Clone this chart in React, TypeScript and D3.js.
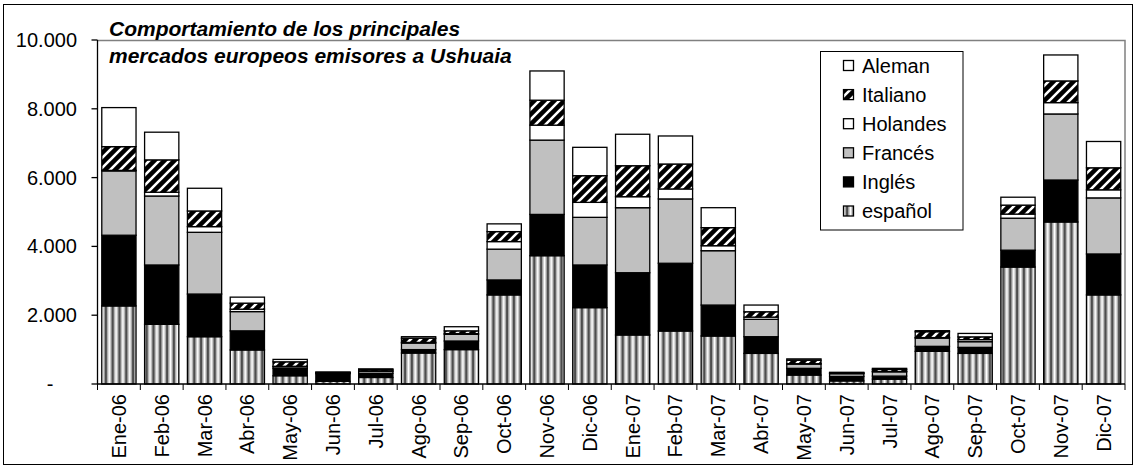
import React from "react";
import * as d3 from "d3";

const months = ["Ene-06","Feb-06","Mar-06","Abr-06","May-06","Jun-06","Jul-06","Ago-06","Sep-06","Oct-06","Nov-06","Dic-06","Ene-07","Feb-07","Mar-07","Abr-07","May-07","Jun-07","Jul-07","Ago-07","Sep-07","Oct-07","Nov-07","Dic-07"];
const espanol =  [2270,1735,1375,990,240,80,190,900,1000,2590,3730,2220,1425,1540,1395,890,260,90,140,950,890,3400,4710,2590];
const ingles =   [2055,1725,1240,555,215,220,120,100,250,435,1200,1240,1810,1970,900,485,195,130,90,145,175,490,1220,1190];
const frances =  [1870,2005,1795,560,50,20,60,190,195,895,2160,1385,1890,1870,1580,505,125,80,125,240,165,930,1920,1630];
const holandes = [15,110,165,70,10,5,10,20,20,220,435,435,320,290,145,65,10,10,10,15,60,120,330,235];
const italiano = [690,940,455,175,130,10,40,120,80,290,725,775,900,725,525,155,100,20,60,170,80,260,630,640];
const aleman =   [1135,805,660,175,70,15,20,45,120,225,850,825,915,815,580,195,40,10,30,30,100,230,755,765];
const yTicks = [0, 2000, 4000, 6000, 8000, 10000];
const yTickLabels = ["-", "2.000", "4.000", "6.000", "8.000", "10.000"];
const titleLines = ["Comportamiento de los principales", "mercados europeos emisores a Ushuaia"];

const seriesKeys = ["español", "Inglés", "Francés", "Holandes", "Italiano", "Aleman"];
const seriesValues = [espanol, ingles, frances, holandes, italiano, aleman];
const fills: Record<string, string> = {
  "español": "url(#vstripe)",
  "Inglés": "#000000",
  "Francés": "#c0c0c0",
  "Holandes": "#ffffff",
  "Italiano": "url(#hatch)",
  "Aleman": "#ffffff",
};
const legendOrder = ["Aleman", "Italiano", "Holandes", "Francés", "Inglés", "español"];

const W = 1136, H = 467;
const X0 = 97.5, X1 = 1125, Y0 = 384, Y1 = 40;
const FONT = "'Liberation Sans', Arial, sans-serif";

export default function App() {
  const table = months.map((m, i) => {
    const row: any = { month: m };
    seriesKeys.forEach((k, j) => { row[k] = seriesValues[j][i]; });
    return row;
  });
  const stacked = d3.stack().keys(seriesKeys)(table as any);
  const x = d3.scaleBand().domain(months).range([X0, X1]).paddingInner(0.2).paddingOuter(0.1);
  const y = d3.scaleLinear().domain([0, 10000]).range([Y0, Y1]);
  const step = x.step();

  return (
    <svg width={W} height={H} style={{ position: "absolute", left: 0, top: 0, background: "#fff" }} fontFamily={FONT}>
      <defs>
        <pattern id="vstripe" patternUnits="userSpaceOnUse" width={6.8} height={10}>
          <rect x={0} y={0} width={6.8} height={10} fill="#ffffff" />
          <rect x={1.4} y={0} width={1.2} height={10} fill="#b4b4b4" />
          <rect x={2.6} y={0} width={2.8} height={10} fill="#4d4d4d" />
          <rect x={5.4} y={0} width={1.0} height={10} fill="#b4b4b4" />
        </pattern>
        <pattern id="hatch" patternUnits="userSpaceOnUse" width={10} height={10}>
          <rect x={0} y={0} width={10} height={10} fill="#000" />
          <path d="M-2.5,2.5 L2.5,-2.5 M0,10 L10,0 M7.5,12.5 L12.5,7.5" stroke="#fff" strokeWidth={2.6} />
        </pattern>
      </defs>
      <rect x={3.5} y={4.5} width={1129} height={460} fill="#fff" stroke="#000" strokeWidth={1} />
      {/* plot area border */}
      <path d={`M${X0},${Y1 + 0.5} H${X1} V${Y0}`} fill="none" stroke="#808080" strokeWidth={1.5} />
      {/* bars */}
      {stacked.map((s: any) => (
        <g key={s.key}>
          {s.map((d: any, i: number) => {
            const h = y(d[0]) - y(d[1]);
            if (h <= 0) return null;
            return (
              <rect key={i} x={x(months[i])} y={y(d[1])} width={x.bandwidth()} height={h}
                fill={fills[s.key]} stroke="#000" strokeWidth={1.3} />
            );
          })}
        </g>
      ))}
      {/* y axis */}
      <line x1={X0} x2={X0} y1={Y1} y2={Y0} stroke="#000" strokeWidth={1.3} />
      {yTicks.map((t, i) => (
        <g key={t}>
          <line x1={X0 - 6} x2={X0} y1={y(t)} y2={y(t)} stroke="#000" strokeWidth={1.3} />
          {i === 0 ? (
            <text x={50} y={y(t) + 7} fontSize={20} textAnchor="middle">{yTickLabels[i]}</text>
          ) : (
            <text x={77} y={y(t) + 7} fontSize={20} textAnchor="end">{yTickLabels[i]}</text>
          )}
        </g>
      ))}
      {/* x axis */}
      <line x1={X0} x2={X1} y1={Y0} y2={Y0} stroke="#000" strokeWidth={1.3} />
      {months.map((m, i) => (
        <line key={"t" + m} x1={X0 + i * step} x2={X0 + i * step} y1={Y0} y2={Y0 + 6} stroke="#000" strokeWidth={1} />
      ))}
      <line x1={X1} x2={X1} y1={Y0} y2={Y0 + 6} stroke="#000" strokeWidth={1} />
      {months.map((m) => {
        const cx = (x(m) as number) + x.bandwidth() / 2;
        return (
          <text key={"l" + m} transform={`translate(${cx + 7},394) rotate(-90)`} fontSize={20} textAnchor="end">{m}</text>
        );
      })}
      {/* title */}
      {titleLines.map((t, i) => (
        <text key={t} x={109} y={35.5 + i * 27.7} fontSize={21} fontWeight="bold" fontStyle="italic">{t}</text>
      ))}
      {/* legend */}
      <rect x={820.5} y={51.5} width={142.5} height={178.5} fill="#fff" stroke="#000" strokeWidth={1} />
      {legendOrder.map((k, i) => {
        const cy = 65.5 + i * 29.1;
        return (
          <g key={k}>
            <rect x={843.5} y={cy - 5} width={10} height={10} fill={fills[k]} stroke="#000" strokeWidth={1.3} />
            <text x={862} y={cy + 7} fontSize={20}>{k}</text>
          </g>
        );
      })}
    </svg>
  );
}
